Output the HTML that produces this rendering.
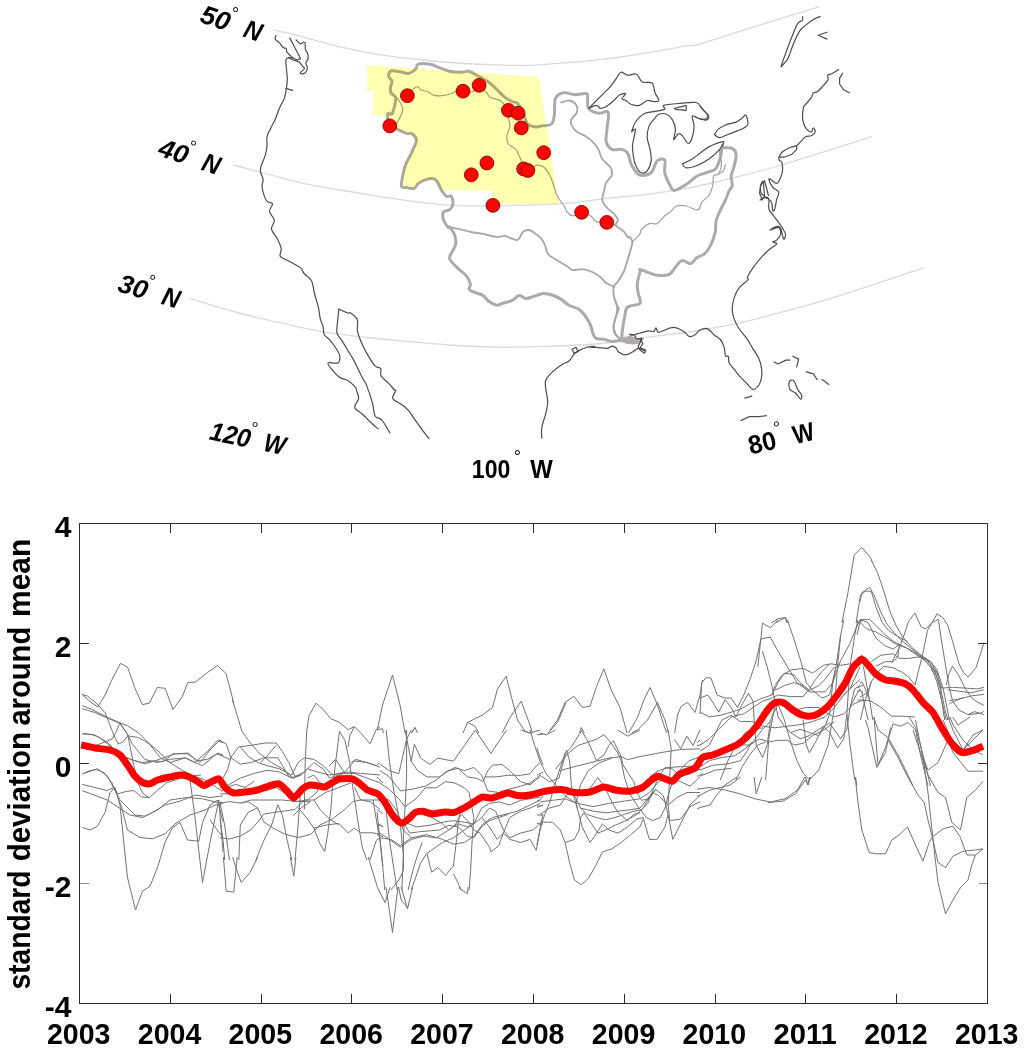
<!DOCTYPE html>
<html lang="en"><head><meta charset="utf-8"><title>Missouri basin standard deviation around mean</title>
<style>
html,body{margin:0;padding:0;background:#fff;}
body{width:1024px;height:1048px;overflow:hidden;font-family:"Liberation Sans",sans-serif;}
svg{display:block;}
.coast{fill:none;stroke:#4c4c4c;stroke-width:1.2;stroke-linejoin:round;stroke-linecap:round;}
.thick{fill:none;stroke:#ada9ac;stroke-width:3;stroke-linejoin:round;stroke-linecap:round;}
.medium{fill:none;stroke:#aaa7a9;stroke-width:1.9;stroke-linejoin:round;stroke-linecap:round;}
.thin{fill:none;stroke:#a3a0a2;stroke-width:1.2;stroke-linejoin:round;stroke-linecap:round;}
.lat{fill:none;stroke:#dadada;stroke-width:1.3;}
.dot{fill:#fb0505;stroke:#8a0000;stroke-width:0.9;}
.g{fill:none;stroke:#727272;stroke-width:1;stroke-linejoin:round;}
.red{fill:none;stroke:#ff0000;stroke-width:7;stroke-linejoin:round;stroke-linecap:butt;}
.ax{stroke:#2e2e2e;stroke-width:1.1;fill:none;shape-rendering:crispEdges;}
.tk{font-family:"Liberation Sans",sans-serif;font-weight:bold;font-size:30px;fill:#000;}
.ml{font-family:"Liberation Sans",sans-serif;font-weight:bold;font-size:26px;fill:#000;}
</style></head><body>
<svg width="1024" height="1048" viewBox="0 0 1024 1048">
<rect width="1024" height="1048" fill="#fff"/>
<g id="map"><g style="filter:blur(0.35px)">
<path class="lat" d="M272.7 29.8 C277.2 30.9 288.8 33.3 300 36.1 C311.2 38.9 326.8 43.7 340 46.8 C353.2 49.9 366.0 52.5 379 54.6 C392.0 56.7 405.1 58.1 418.1 59.5 C431.1 60.9 444.2 62.1 457.2 63 C470.2 63.9 484.2 64.4 496.3 64.8 C508.4 65.2 517.9 65.8 530 65.4 C542.1 65.0 556.1 63.6 569.1 62.5 C582.1 61.4 595.1 60.2 608.1 58.6 C621.1 57.0 634.2 54.8 647.2 52.7 C660.2 50.6 677.5 47.4 686.3 45.9 C695.1 44.4 688.0 47.3 700 43.9 C712.0 40.5 738.8 31.6 758.6 25.4 C778.5 19.2 809.0 9.9 819.1 6.8"/>
<path class="lat" d="M233.8 165 C244.8 167.9 282.3 178.4 300 182.6 C317.7 186.8 326.8 187.7 340 190 C353.2 192.3 366.0 194.3 379 196.3 C392.0 198.3 405.0 200.6 418 202.1 C431.0 203.6 443.8 205.0 457.2 205.6 C470.6 206.2 486.5 205.9 498.6 205.8 C510.7 205.7 518.2 205.4 530 205 C541.8 204.6 556.1 204.2 569.1 203.1 C582.1 202.0 595.1 199.7 608.1 198.2 C621.1 196.7 634.2 195.9 647.2 194.3 C660.2 192.7 674.5 190.5 686.3 188.4 C698.1 186.3 702.8 185.2 718.1 181.5 C733.4 177.8 752.5 173.5 778.1 166 C803.7 158.5 856.3 141.6 871.9 136.7"/>
<path class="lat" d="M189.8 298.4 C197.6 300.8 220.1 308.1 236.7 312.5 C253.2 316.9 273.9 321.4 289.1 324.8 C304.3 328.2 315.1 330.5 328.1 332.6 C341.1 334.7 354.2 336.0 367.2 337.5 C380.2 339.0 392.5 340.1 406.3 341.4 C420.1 342.6 434.6 344.0 450 345 C465.4 346.0 482.3 347.0 498.6 347.2 C514.9 347.4 531.5 346.9 547.7 346.4 C563.9 345.9 580.6 345.4 596 344 C611.4 342.6 623.7 340.2 639.8 338.1 C655.9 336.0 676.9 333.8 692.5 331.5 C708.1 329.2 719.2 327.2 733.5 324.2 C747.8 321.1 760.9 317.8 778.1 313.2 C795.3 308.6 812.3 304.2 836.7 296.6 C861.1 289.0 909.9 272.4 924.5 267.5"/>
<path class="thick" d="M389.8 126.2 C389.4 124.9 387.9 120.5 387.6 118.4 C387.3 116.3 387.4 114.2 388.1 113.5 C388.8 112.8 391.0 114.8 392 114 C393.0 113.2 393.3 110.6 393.9 108.6 C394.5 106.6 395.1 103.8 395.4 101.8 C395.6 99.8 396.1 98.4 395.4 96.9 C394.7 95.4 391.8 94.6 391 93 C390.2 91.4 390.3 89.0 390.5 87.1 C390.7 85.1 392.3 83.1 392 81.3 C391.7 79.5 388.8 78.1 388.6 76.4 C388.4 74.7 389.0 71.7 391 71 C393.0 70.3 397.9 71.6 400.8 72 C403.7 72.4 406.2 73.8 408.6 73.4 C411.0 73.0 413.8 71.0 415.4 69.5 C417.0 68.0 415.9 65.1 418.4 64.2 C420.8 63.3 426.9 63.7 430.1 64.2 C433.4 64.7 434.7 65.9 437.9 67.1 C441.1 68.3 445.5 70.3 449.4 71.2 C453.3 72.1 457.9 72.2 461.1 72.2 C464.4 72.2 466.3 70.7 468.9 71.2 C471.5 71.7 473.4 73.4 476.7 75.2 C479.9 77.0 485.1 79.7 488.4 82 C491.6 84.3 493.6 86.4 496.2 88.8 C498.8 91.2 501.5 94.5 504.1 96.6 C506.7 98.7 509.6 100.3 511.9 101.5 C514.2 102.7 515.8 101.4 517.7 103.5 C519.7 105.6 522.0 110.8 523.6 114.2 C525.2 117.6 525.5 121.9 527.5 124 C529.5 126.1 532.9 126.6 535.3 126.9 C537.7 127.2 539.0 126.4 541.7 125.9 C544.4 125.4 549.4 126.0 551.5 124 C553.6 122.0 553.8 118.4 554.4 114.2 C555.0 110.0 553.9 102.2 555.4 98.6 C556.9 95.0 560.0 93.3 563.2 92.7 C566.5 92.1 571.0 94.5 574.9 94.7 C578.8 94.9 584.5 92.7 586.6 93.7 C588.7 94.7 587.3 98.0 587.6 100.5 C587.9 103.0 586.8 106.3 588.6 108.4 C590.4 110.5 595.1 112.6 598.4 113.2 C601.6 113.8 606.6 109.8 608.1 112.3 C609.6 114.8 607.4 123.0 607.1 127.9 C606.8 132.8 605.4 138.0 606.2 141.6 C607.0 145.2 609.4 148.1 612 149.4 C614.6 150.7 619.2 148.8 621.8 149.4 C624.4 150.1 626.1 150.7 627.7 153.3 C629.3 155.9 629.7 161.4 631.6 165 C633.5 168.6 636.1 173.5 639.4 174.8 C642.6 176.1 648.2 175.1 651.1 172.8 C654.0 170.5 654.7 163.2 657 161.1 C659.3 159.0 663.5 158.1 664.8 160.1 C666.1 162.1 663.8 168.4 664.8 172.8 C665.8 177.2 669.0 183.6 670.6 186.5 C672.2 189.4 671.9 190.7 674.5 190.4 C677.1 190.1 682.6 186.8 686.2 184.5 C689.8 182.2 692.7 178.6 696 176.7 C699.3 174.8 702.5 174.1 705.8 172.8 C709.0 171.5 713.1 171.5 715.5 168.9 C717.9 166.3 719.2 161.1 720.4 157.2 C721.5 153.3 721.9 147.1 722.4 145.5 C722.9 143.9 721.8 147.0 723.4 147.5 C725.0 148.0 730.1 147.3 732.2 148.4 C734.3 149.5 735.8 151.4 736.1 154.3 C736.4 157.2 735.0 162.4 734.2 166 C733.4 169.6 731.5 172.6 731.2 175.8 C730.9 179.1 732.6 182.9 732.2 185.5 C731.8 188.1 730.0 188.9 728.9 191.2 C727.8 193.5 727.4 195.8 725.9 199.1 C724.4 202.4 721.7 207.2 720.1 210.8 C718.5 214.4 717.0 216.9 716.2 220.5 C715.4 224.1 716.2 228.1 715.2 232.3 C714.2 236.5 712.1 242.3 710.3 245.9 C708.5 249.5 706.8 251.8 704.5 253.8 C702.2 255.8 698.9 256.1 696.6 257.7 C694.3 259.3 693.2 263.0 690.8 263.5 C688.4 264.0 684.6 260.0 682 260.6 C679.4 261.2 677.3 265.1 675.2 267.4 C673.1 269.7 672.2 273.0 669.3 274.3 C666.4 275.6 661.2 275.5 657.6 275.2 C654.0 274.9 650.7 273.3 647.8 272.3 C644.9 271.3 641.3 269.4 640 269.4 C638.7 269.3 640.5 269.6 640 272 C639.5 274.4 637.6 280.2 637.3 283.8 C637.0 287.4 637.8 290.2 638.2 293.5 C638.7 296.8 641.8 301.0 640 303.3 C638.2 305.6 630.1 304.9 627.5 307.2 C624.9 309.5 625.4 313.4 624.6 317 C623.8 320.6 623.1 325.1 622.6 328.7 C622.1 332.3 621.8 336.8 621.6 338.4"/>
<path class="thick" d="M389.8 126.2 C391.6 127.0 397.9 129.8 400.8 131 C403.7 132.2 405.1 133.1 407 133.6 C408.9 134.1 410.9 132.8 412.5 134 C414.1 135.2 416.2 138.5 416.4 140.8 C416.6 143.1 414.4 145.9 413.5 148 C412.6 150.1 412.7 150.5 411.3 153.3 C409.9 156.1 406.9 161.1 405.4 165 C403.9 168.9 403.1 173.1 402.5 176.7 C401.9 180.3 400.9 184.7 401.5 186.5 C402.1 188.3 404.3 187.2 406.4 187.5 C408.5 187.8 412.2 189.1 414.2 188.4 C416.1 187.8 416.2 185.1 418.1 183.6 C420.1 182.1 423.3 180.4 425.9 179.6 C428.5 178.8 431.8 178.2 433.8 178.7 C435.8 179.2 436.4 180.6 437.7 182.6 C439.0 184.6 440.2 188.1 441.6 190.4 C443.1 192.7 444.8 195.2 446.4 196.2 C448.0 197.2 450.2 194.9 451.3 196.2 C452.4 197.5 453.2 201.8 452.9 204.1 C452.6 206.4 451.0 208.6 449.4 209.9 C447.8 211.2 444.5 210.3 443.5 211.9 C442.5 213.5 442.7 217.1 443.5 219.7 C444.3 222.3 447.3 226.3 448.4 227.5 C449.4 228.7 448.8 225.9 449.8 227.1 C450.8 228.3 453.6 232.0 454.6 234.9 C455.6 237.8 456.1 241.8 455.6 244.7 C455.1 247.6 452.7 250.1 451.7 252.5 C450.7 254.9 448.8 256.7 449.8 259.3 C450.8 261.9 454.8 265.3 457.6 268.1 C460.4 270.9 464.3 273.3 466.4 275.9 C468.5 278.5 469.8 281.5 470.3 283.8 C470.8 286.1 468.5 288.2 469.3 289.6 C470.1 291.1 472.9 291.5 475.2 292.5 C477.5 293.5 480.7 294.0 483 295.5 C485.3 297.0 486.5 299.7 488.8 301.3 C491.1 302.9 494.3 304.9 496.6 305.2 C498.9 305.5 499.9 304.1 502.5 303.3 C505.1 302.5 509.5 301.7 512.3 300.4 C515.1 299.1 516.8 295.8 519.1 295.5 C521.4 295.2 523.5 298.2 525.9 298.4 C528.3 298.5 530.9 297.2 533.8 296.4 C536.7 295.6 540.2 293.6 543.5 293.5 C546.8 293.4 550.4 294.5 553.3 295.5 C556.2 296.5 558.5 297.8 561.1 299.4 C563.7 301.0 566.0 303.6 568.9 305.2 C571.8 306.8 576.1 307.5 578.7 309.1 C581.3 310.7 582.5 312.4 584.5 315 C586.5 317.6 588.9 321.6 590.4 324.8 C591.9 328.1 592.3 332.2 593.3 334.5 C594.3 336.8 594.4 337.6 596.2 338.4 C598.0 339.2 601.5 338.9 604.1 339.4 C606.7 339.9 609.3 341.2 611.9 341.4 C614.5 341.6 617.1 340.4 619.7 340.4 C622.3 340.4 624.6 341.4 627.5 341.4 C630.4 341.4 635.5 340.6 637.3 340.4 C639.1 340.2 637.5 340.6 638.3 340.3 C639.1 340.0 641.4 339.1 642 338.8"/>
<path class="medium" d="M449.8 227.1 C451.4 227.4 455.9 228.3 459.5 229.1 C463.1 229.9 467.3 231.2 471.2 232 C475.1 232.8 478.8 233.1 483 233.9 C487.2 234.7 493.0 236.6 496.6 236.9 C500.2 237.2 501.9 235.6 504.5 235.9 C507.1 236.2 510.0 238.2 512.3 238.8 C514.6 239.5 516.3 240.9 518.1 239.8 C519.9 238.7 521.2 233.6 523 232 C524.8 230.4 526.8 229.7 528.9 230 C531.0 230.3 533.6 232.4 535.7 233.9 C537.8 235.4 540.0 236.7 541.6 238.8 C543.2 240.9 544.4 244.0 545.5 246.6 C546.6 249.2 546.4 252.2 548.4 254.5 C550.4 256.8 554.1 258.4 557.2 260.3 C560.3 262.2 564.4 264.6 567 266.2 C569.6 267.8 570.2 269.6 572.8 270.1 C575.4 270.6 579.4 268.8 582.6 269.1 C585.9 269.4 589.4 270.7 592.3 272 C595.2 273.3 597.9 275.1 600.2 276.9 C602.5 278.7 603.7 281.2 606 282.8 C608.3 284.4 612.5 286.1 613.8 286.7"/>
<path class="medium" d="M561.2 102.5 C562.5 102.2 566.7 100.2 569.1 100.5 C571.5 100.8 574.6 102.5 575.9 104.5 C577.2 106.5 577.7 109.7 576.9 112.3 C576.1 114.9 571.8 117.8 571 120.1 C570.2 122.4 571.0 124.0 572 125.9 C573.0 127.9 574.8 130.2 576.9 131.8 C579.0 133.4 582.1 134.1 584.7 135.7 C587.3 137.3 590.2 139.3 592.5 141.6 C594.8 143.9 596.8 146.5 598.4 149.4 C600.0 152.3 600.3 156.2 602.3 159.1 C604.2 162.0 608.5 164.4 610.1 167 C611.7 169.6 612.6 172.2 612 174.8 C611.4 177.4 607.5 180.0 606.2 182.6 C604.9 185.2 604.9 187.5 604.2 190.4 C603.6 193.3 601.8 197.3 602.3 200.2 C602.8 203.1 605.1 205.7 607.1 208 C609.1 210.3 612.2 211.9 614 213.8 C615.8 215.8 617.6 217.8 617.9 219.7 C618.2 221.6 614.9 223.6 615.9 225.5 C616.9 227.4 621.8 229.4 623.8 231.4 C625.8 233.4 626.8 236.4 627.7 237.3 C628.7 238.2 628.7 236.2 629.5 236.9 C630.3 237.7 632.2 239.5 632.4 241.8 C632.5 244.1 631.2 247.4 630.4 250.5 C629.6 253.6 628.6 256.7 627.5 260.3 C626.4 263.9 625.2 268.4 623.6 272 C622.0 275.6 619.3 279.4 617.7 281.8 C616.1 284.2 614.4 284.4 613.8 286.7 C613.1 289.0 613.3 292.4 613.8 295.5 C614.3 298.6 616.0 302.9 616.8 305.2 C617.6 307.5 618.9 307.1 618.7 309.1 C618.5 311.1 616.6 314.1 615.8 317 C615.0 319.9 613.8 323.8 613.8 326.7 C613.8 329.6 614.8 332.4 615.8 334.5 C616.8 336.6 619.1 338.6 619.7 339.4"/>
<path class="medium" d="M614.9 300 C615.3 301.0 616.9 303.5 617.1 305.9 C617.4 308.3 617.0 311.2 616.4 314.6 C615.8 318.0 613.6 323.2 613.4 326.4 C613.1 329.6 613.9 331.8 614.9 333.7 C615.9 335.6 618.6 337.4 619.3 338.1"/>
<path class="thin" d="M396.9 123.2 C397.7 121.6 400.8 115.9 401.8 113.5 C402.8 111.1 403.0 110.5 402.7 108.6 C402.4 106.6 401.1 103.9 399.8 101.8 C398.5 99.7 395.7 96.9 394.9 95.9"/>
<path class="thin" d="M407.6 95.7 C408.6 94.6 411.9 90.6 413.5 89.1 C415.1 87.6 416.1 86.4 417.4 86.6 C418.7 86.8 419.5 89.1 421.3 90 C423.1 90.9 426.0 91.1 428.1 92 C430.2 92.9 431.8 94.8 434 95.4 C436.2 96.0 438.7 96.0 441.6 95.7 C444.5 95.4 448.7 94.5 451.3 93.7 C453.9 92.9 455.2 91.2 457.2 90.8 C459.1 90.4 460.4 91.0 463 91.2 C465.6 91.4 470.1 92.8 472.8 91.8 C475.5 90.8 476.8 85.1 479.1 85.3 C481.4 85.5 484.6 90.7 486.5 92.7 C488.4 94.8 488.1 96.3 490.4 97.6 C492.7 98.9 497.6 99.0 500.2 100.5 C502.8 102.0 504.6 104.8 506 106.4 C507.4 108.0 508.1 108.5 508.4 110.3 C508.7 112.1 507.8 114.5 508 117.1 C508.2 119.7 510.1 122.8 509.9 125.9 C509.7 129.0 507.3 132.8 507 135.7 C506.7 138.6 506.5 141.2 508 143.5 C509.5 145.8 514.0 147.5 515.8 149.4 C517.6 151.3 517.7 153.2 518.7 155.2 C519.7 157.1 520.8 158.8 521.6 161.1 C522.4 163.4 522.6 167.3 523.6 168.9 C524.6 170.5 526.0 171.0 527.9 170.5 C529.8 170.0 533.6 166.9 535.3 166 C536.9 165.1 536.4 164.8 537.8 165 C539.2 165.2 541.8 165.4 543.7 167 C545.7 168.6 547.9 171.9 549.5 174.8 C551.1 177.7 552.1 180.9 553.4 184.5 C554.7 188.1 555.5 192.6 557.3 196.2 C559.1 199.8 562.6 203.4 564.2 206 C565.8 208.6 565.6 210.3 567.1 211.9 C568.6 213.5 570.6 215.7 573 215.8 C575.4 215.9 578.7 212.3 581.6 212.3 C584.5 212.3 588.0 214.2 590.5 215.8 C593.0 217.4 593.6 220.5 596.4 221.6 C599.1 222.7 603.8 221.9 607 222.6 C610.2 223.2 614.4 225.0 615.9 225.5"/>
<path class="thin" d="M632.4 241.8 C632.9 241.3 634.0 240.1 635.3 238.8 C636.6 237.5 639.0 235.5 640 233.9 C641.0 232.3 639.8 231.2 641.3 229.5 C642.8 227.8 646.5 224.6 649.1 223.6 C651.7 222.6 654.4 224.9 657 223.6 C659.6 222.3 662.5 217.8 664.8 215.8 C667.1 213.9 668.6 213.5 670.6 211.9 C672.6 210.3 673.9 207.0 676.5 206 C679.1 205.0 682.6 205.3 686.2 206 C689.8 206.7 695.4 210.6 698 209.9 C700.6 209.2 699.9 204.7 701.9 202.1 C703.9 199.5 707.9 197.1 709.7 194.3 C711.5 191.5 712.0 188.6 712.7 185.5 C713.4 182.4 712.7 177.8 713.7 175.8 C714.7 173.9 717.3 175.8 718.6 173.8 C719.9 171.9 721.4 168.0 721.5 164.1 C721.6 160.2 719.8 152.7 719.5 150.4"/>
<path class="thin" d="M718.6 173.8 C719.4 173.3 722.3 172.4 723.4 170.9 C724.5 169.4 725.0 166.0 725.3 165"/>
<path d="M622 337.5 L631 336.5 L637 339 L640 343 L634 344 L627 343.5 L621 341Z" fill="#b0a9ac" stroke="#b0a9ac" stroke-width="1" stroke-linejoin="round"/>
<path class="coast" d="M276.1 35.6 C275.9 36.2 274.5 37.8 275.1 39 C275.7 40.2 278.2 41.5 279.5 42.9 C280.8 44.3 281.8 46.3 282.9 47.3 C284.0 48.3 285.7 48.0 286.4 48.8 C287.1 49.6 285.9 50.7 286.9 52.2 C287.9 53.7 292.0 56.7 292.2 57.6 C292.4 58.5 289.4 57.2 288.3 57.6 C287.2 58.0 286.2 58.1 285.9 60 C285.6 61.9 286.2 65.7 286.4 68.8 C286.6 71.9 287.3 75.3 287.3 78.6 C287.3 81.9 286.9 85.2 286.4 88.4 C285.9 91.7 285.5 94.8 284.4 98.1 C283.2 101.3 281.0 104.5 279.5 107.9 C278.0 111.3 277.0 115.3 275.6 118.6 C274.2 121.9 272.3 124.9 270.9 127.9 C269.5 130.9 267.6 133.6 267 136.7 C266.4 139.8 267.3 143.2 267 146.5 C266.7 149.8 266.0 152.9 265 156.2 C264.0 159.4 261.9 163.4 261.1 166 C260.4 168.6 260.2 169.6 260.5 171.9 C260.8 174.2 262.8 177.1 263.1 179.7 C263.4 182.3 261.5 184.0 262.1 187.5 C262.7 191.0 264.9 198.0 266.6 200.7 C268.3 203.4 272.0 201.9 272.5 203.7 C273.0 205.5 269.2 208.7 269.5 211.5 C269.8 214.3 274.1 217.4 274.4 220.3 C274.7 223.2 271.0 226.0 271.5 229.1 C272.0 232.2 275.7 235.6 277.3 238.8 C278.9 242.1 280.7 245.7 281.2 248.6 C281.7 251.5 279.0 254.3 280.3 256.4 C281.6 258.5 285.7 259.4 289.1 261.3 C292.5 263.2 298.4 266.2 300.8 268.1 C303.2 270.1 301.9 270.9 303.7 273 C305.5 275.1 309.7 277.4 311.5 280.8 C313.3 284.2 313.4 289.1 314.5 293.5 C315.6 297.9 317.4 303.0 318.4 307.2 C319.4 311.4 319.5 315.6 320.3 318.9 C321.1 322.1 322.6 324.1 323.2 326.7 C323.8 329.3 323.0 332.2 324.2 334.5 C325.4 336.8 328.2 338.1 330.1 340.4 C332.1 342.7 334.3 345.6 335.9 348.2 C337.5 350.8 339.5 353.6 339.8 356 C340.1 358.4 339.8 361.8 337.9 362.9 C335.9 364.0 329.1 361.8 328.1 362.9 C327.1 364.0 330.1 367.3 332 369.7 C333.9 372.1 337.2 375.7 339.8 377.5 C342.4 379.3 345.1 378.8 347.7 380.4 C350.3 382.0 354.0 385.6 355.5 387.3 C357.0 389.0 356.1 388.9 356.6 390.8 C357.1 392.7 358.9 395.8 358.6 398.6 C358.3 401.4 354.1 404.8 354.7 407.4 C355.3 410.0 359.9 411.8 362.5 414.2 C365.1 416.6 367.7 419.6 370.3 422 C372.9 424.4 376.8 427.8 378.1 428.9"/>
<path class="coast" d="M288.3 57.6 C289.1 58.0 291.4 59.3 293.2 60 C295.0 60.7 297.5 60.9 299.1 62 C300.7 63.1 302.1 65.8 303 66.9 C303.9 68.0 304.9 67.8 304.4 68.8 C303.9 69.8 299.9 72.5 300 73.2 C300.1 73.9 303.7 74.1 304.9 73.2 C306.1 72.3 307.2 69.6 307.4 67.9 C307.6 66.2 305.8 64.5 305.9 63 C306.0 61.5 307.6 60.6 307.9 59.1 C308.2 57.6 308.3 55.8 307.9 54.2 C307.5 52.6 305.9 51.2 305.4 49.3 C304.9 47.4 305.5 44.0 305.1 42.9 C304.7 41.8 303.8 42.3 303 42.5 C302.2 42.7 301.6 44.3 300.5 43.9 C299.4 43.5 296.8 40.6 296.1 40"/>
<path class="coast" d="M289.8 38.1 L295.2 48.3 L300.5 58.6 L297.1 60 L292.2 57.6"/>
<path class="coast" d="M285.9 88.4 L292.7 90.3"/>
<path class="coast" d="M338.9 309.1 C338.7 310.7 338.2 315.0 337.9 318.9 C337.6 322.8 336.2 329.0 336.9 332.6 C337.5 336.2 340.0 337.5 341.8 340.4 C343.6 343.3 345.8 346.9 347.7 350.2 C349.6 353.4 351.9 357.0 353.5 359.9 C355.1 362.8 355.8 364.4 357.4 367.7 C359.0 371.0 361.8 376.6 363.3 379.5 C364.8 382.4 364.9 381.1 366.4 384.9 C367.9 388.7 370.8 397.3 372.3 402.5 C373.8 407.7 373.6 413.3 375.2 416.2 C376.8 419.1 379.6 417.3 382 420.1 C384.4 422.9 388.5 430.7 389.8 432.8"/>
<path class="coast" d="M338.9 309.1 C340.4 309.8 345.8 312.4 347.7 313 C349.6 313.6 349.0 311.9 350.6 313 C352.2 314.1 356.3 317.0 357.4 319.9 C358.5 322.8 356.8 326.9 357.4 330.6 C358.0 334.3 359.7 338.4 361.3 342.3 C362.9 346.2 364.9 350.2 367.2 354.1 C369.5 358.0 372.7 363.4 375 365.8 C377.3 368.2 379.9 367.1 380.9 368.7 C381.9 370.3 379.6 373.1 380.9 375.5 C382.2 377.9 386.4 381.0 388.7 383.4 C391.0 385.8 393.3 388.8 394.5 390 C395.7 391.2 396.0 389.4 395.7 390.8 C395.4 392.2 391.8 396.3 392.8 398.6 C393.8 400.9 399.0 402.6 401.6 404.5 C404.2 406.4 406.1 407.7 408.4 410.3 C410.7 412.9 412.8 416.7 415.2 420.1 C417.6 423.5 420.7 427.7 423 430.8 C425.3 433.9 427.9 437.3 428.9 438.6"/>
<path class="coast" d="M541.8 438.2 C541.8 436.4 541.1 431.5 541.8 427.4 C542.4 423.3 544.7 418.0 545.7 413.8 C546.7 409.6 547.7 406.2 547.7 402 C547.7 397.8 546.0 392.0 545.7 388.4 C545.4 384.8 544.7 383.1 545.7 380.5 C546.7 377.9 549.0 375.3 551.6 372.7 C554.2 370.1 558.4 366.8 561.3 364.9 C564.2 362.9 566.8 362.9 569.1 361 C571.4 359.1 572.1 355.5 575 353.2 C577.9 350.9 583.5 348.4 586.7 347.3 C590.0 346.2 594.0 346.5 594.5 346.4 C595.0 346.3 589.3 346.7 590 346.9 C590.7 347.1 595.9 347.4 598.8 347.6 C601.7 347.8 605.4 348.6 607.6 348.3 C609.8 348.1 610.5 346.1 612 346.1 C613.5 346.1 615.3 347.3 616.4 348.3 C617.5 349.3 617.1 350.9 618.6 352 C620.1 353.1 622.9 354.9 625.2 354.9 C627.5 354.9 630.3 353.1 632.5 352 C634.7 350.9 636.2 348.4 638.3 348.3 C640.4 348.2 644.0 350.6 644.9 351.3 C645.8 352.0 644.6 353.4 643.5 352.7 C642.4 352.0 638.5 349.2 638.3 346.9 C638.0 344.6 642.2 340.1 642 338.8 C641.8 337.5 638.2 339.4 636.9 338.8 C635.5 338.2 635.1 335.9 633.9 335.2 C632.7 334.5 629.7 334.4 629.5 334.4 C629.3 334.4 630.8 335.4 632.5 335.2 C634.2 335.0 637.1 333.7 639.8 333 C642.5 332.3 646.3 331.1 648.6 330.8 C650.9 330.6 652.5 332.0 653.7 331.5 C654.9 331.0 655.2 327.7 655.9 327.8 C656.6 327.9 656.9 331.7 658.1 332.2 C659.3 332.7 661.1 331.5 663.2 330.8 C665.3 330.1 668.4 328.3 670.6 327.8 C672.8 327.3 674.2 327.2 676.4 327.8 C678.6 328.4 681.5 330.0 683.7 331.5 C685.9 333.0 687.6 336.1 689.6 336.6 C691.6 337.1 693.8 335.5 695.5 334.4 C697.2 333.3 697.9 331.0 699.9 330 C701.9 329.0 704.8 327.7 707.2 328.6 C709.6 329.5 712.3 333.4 714.5 335.2 C716.7 337.0 718.8 337.6 720.4 339.5 C722.0 341.4 723.1 344.2 724 346.9 C724.9 349.6 724.8 354.1 725.5 355.7 C726.2 357.3 727.8 355.2 728.4 356.4 C729.0 357.6 728.1 360.7 729.2 363 C730.3 365.3 733.4 368.2 735 370.3 C736.6 372.4 737.1 373.5 739.1 375.7 C741.1 377.9 744.6 381.2 746.9 383.5 C749.2 385.8 750.8 389.1 752.7 389.4 C754.7 389.7 757.1 387.4 758.6 385.5 C760.1 383.6 761.0 380.6 761.5 377.7 C762.0 374.8 762.0 371.2 761.5 367.9 C761.0 364.6 760.1 361.4 758.6 358.1 C757.1 354.9 754.7 351.6 752.7 348.4 C750.8 345.1 749.2 341.9 746.9 338.6 C744.6 335.3 741.2 332.1 739.1 328.8 C737.0 325.6 735.4 322.4 734.2 319.1 C733.1 315.9 732.2 312.9 732.2 309.3 C732.2 305.7 733.1 301.2 734.2 297.6 C735.4 294.0 736.8 290.7 739.1 287.8 C741.4 284.9 746.5 281.8 747.9 280 C749.3 278.2 746.5 279.3 747.4 277.2 C748.3 275.1 751.0 270.6 753.3 267.4 C755.6 264.1 758.5 260.6 761.1 257.7 C763.7 254.8 766.3 252.1 768.9 249.8 C771.5 247.5 776.1 245.3 776.7 244 C777.4 242.7 772.8 242.7 772.8 242 C772.8 241.3 775.4 241.4 776.7 240.1 C778.0 238.8 780.3 236.3 780.6 234.2 C780.9 232.1 780.5 228.1 778.7 227.4 C776.9 226.8 770.2 230.5 769.9 230.3 C769.6 230.1 774.9 226.7 776.7 226.4 C778.5 226.1 779.5 226.3 780.6 228.4 C781.8 230.5 782.8 238.1 783.6 239.1 C784.4 240.1 785.7 236.0 785.5 234.2 C785.3 232.4 783.7 230.3 782.6 228.4 C781.5 226.5 780.3 224.8 778.7 222.5 C777.1 220.2 774.4 217.0 772.8 214.7 C771.2 212.4 769.5 211.4 768.9 208.8 C768.2 206.2 769.5 201.1 768.9 199.1 C768.2 197.1 766.5 196.9 765 197.1 C763.5 197.2 760.1 200.0 760.1 200 C760.1 200.0 764.8 198.2 765 197.1 C765.2 196.0 761.8 195.1 761.1 193.2 C760.4 191.2 760.4 187.3 760.7 185.4 C761.0 183.5 762.5 180.8 763 181.5 C763.5 182.2 763.7 186.7 764 189.3 C764.3 191.9 764.2 195.5 765 197.1 C765.8 198.7 767.8 198.1 768.9 199.1 C770.0 200.1 771.1 201.1 771.8 203 C772.4 204.9 772.3 209.8 772.8 210.8 C773.3 211.8 774.1 210.8 774.8 208.8 C775.4 206.9 776.1 201.9 776.7 199.1 C777.4 196.3 779.4 194.2 778.7 192.2 C778.1 190.2 774.4 189.4 772.8 187.3 C771.2 185.2 769.2 180.8 768.9 179.5 C768.6 178.2 769.6 178.8 770.9 179.5 C772.2 180.2 775.1 183.7 776.7 183.4 C778.3 183.1 779.6 179.9 780.6 177.6 C781.6 175.3 782.4 172.4 782.6 169.8 C782.8 167.2 782.2 163.6 781.6 162 C781.0 160.4 779.5 161.0 779.1 160.2 C778.7 159.4 778.6 158.5 779.1 157.2 C779.6 155.9 780.2 153.9 782 152.3 C783.8 150.7 787.3 148.6 789.8 147.5 C792.2 146.4 794.7 146.7 796.7 145.5 C798.7 144.3 800.1 142.1 801.6 140.6 C803.1 139.1 803.9 137.5 805.5 136.7 C807.1 135.9 809.7 136.5 811.3 135.7 C812.9 134.9 814.9 133.1 815.2 131.8 C815.5 130.5 813.9 127.9 813.3 127.9 C812.6 127.9 812.4 131.6 811.3 131.8 C810.1 132.0 807.7 130.4 806.4 128.9 C805.1 127.4 804.1 125.0 803.5 123 C802.9 121.0 802.5 119.8 802.5 117.2 C802.5 114.6 802.9 109.7 803.5 107.4 C804.1 105.1 805.1 105.1 806.4 103.5 C807.7 101.9 810.1 99.5 811.3 97.7 C812.4 95.9 812.3 93.8 813.3 92.8 C814.3 91.8 815.6 92.9 817.2 91.8 C818.8 90.7 821.2 87.9 823 85.9 C824.8 84.0 827.1 81.9 827.9 80.1 C828.7 78.3 827.1 76.3 827.9 75.2 C828.7 74.1 831.0 74.2 832.8 73.2 C834.6 72.2 837.7 70.0 838.7 69.3"/>
<path class="coast" d="M572.1 349.3 L576 347.3 L577.9 351.2 L574 353.2 L572.1 349.3"/>
<path class="coast" d="M779.1 157.2 L784 157.2 L791.8 154.3 L796.7 149.4 L796.7 145.5"/>
<path class="coast" d="M764.5 180.7 L760.5 185.5 L759.6 193.4 L762.5 200"/>
<path class="coast" d="M764.5 180.7 L766.4 187.5 L768.4 195.3"/>
<path class="coast" d="M842.6 73.2 L839.6 78.1 L839.6 84 L843.6 89.8 L849.4 92.8"/>
<path class="coast" d="M827 32.2 L818.2 35.2 L827 39.1"/>
<path class="coast" d="M802.5 16.6 C802.5 17.2 803.3 19.4 802.5 20.5 C801.7 21.6 799.5 20.6 797.7 23.4 C795.9 26.2 793.8 32.2 791.8 37.1 C789.8 42.0 787.7 47.8 785.9 52.7 C784.1 57.6 781.4 64.6 781.1 66.4 C780.8 68.2 782.9 64.8 784 63.5 C785.1 62.2 786.3 62.0 787.9 58.6 C789.5 55.2 791.8 47.6 793.8 43 C795.8 38.4 797.6 34.1 799.6 31.2 C801.6 28.3 803.2 27.3 805.5 25.4 C807.8 23.4 810.9 21.0 813.3 19.5 C815.7 18.0 819.0 17.1 820.1 16.6"/>
<path class="coast" d="M744.9 398.2 L751.8 396.2"/>
<path class="coast" d="M741 420.6 L748.8 416.7 L758.6 416.7 L766.4 415.7"/>
<path class="coast" d="M774.2 362 L778.1 364 L785.9 360.1 L789.8 360.1"/>
<path class="coast" d="M792.8 356.2 L798.6 359.1 L796.7 366.9"/>
<path class="coast" d="M806.4 371.8 L813.3 373.8 L817.2 379.6"/>
<path class="coast" d="M822.1 379.6 L828.9 384.5"/>
<path class="coast" d="M789.8 380.6 C790.5 380.6 792.5 379.1 793.8 380.6 C795.1 382.1 796.4 387.0 797.7 389.4 C799.0 391.8 801.1 393.6 801.6 395.2 C802.1 396.8 801.6 399.4 800.6 399.1 C799.6 398.8 797.5 394.9 795.7 393.3 C793.9 391.7 790.9 391.0 789.8 389.4 C788.7 387.8 788.9 385.0 788.9 383.5 C788.9 382.0 789.6 381.1 789.8 380.6"/>
<path class="coast" d="M640 338.7 L642.9 343.6 L640 347.5 L645.9 350.4"/>
<path class="coast" d="M588.6 108.4 C589.6 107.4 592.2 104.8 594.5 102.5 C596.8 100.2 599.7 97.3 602.3 94.7 C604.9 92.1 607.8 89.5 610.1 86.9 C612.4 84.3 614.1 81.5 615.9 79.1 C617.7 76.6 618.8 72.8 620.8 72.2 C622.8 71.6 625.1 74.9 627.7 75.2 C630.3 75.5 634.0 73.1 636.4 74.2 C638.8 75.3 639.7 80.5 642.3 82 C644.9 83.5 650.0 81.2 652.1 83 C654.2 84.8 653.9 89.8 655 92.7 C656.1 95.6 659.2 99.0 658.9 100.5 C658.6 102.0 655.0 101.5 653 101.5 C651.0 101.5 649.5 99.8 647.2 100.5 C644.9 101.2 642.0 104.7 639.4 105.4 C636.8 106.1 633.9 105.3 631.6 104.5 C629.3 103.7 627.3 101.5 625.7 100.5 C624.1 99.5 621.8 99.7 621.8 98.6 C621.8 97.5 626.0 94.3 625.7 93.7 C625.4 93.1 621.8 93.6 619.8 94.7 C617.8 95.8 616.3 98.5 614 100.5 C611.7 102.5 608.5 105.1 606.2 106.4 C603.9 107.7 601.9 108.6 600.3 108.4 C598.7 108.2 598.3 105.4 596.4 105.4 C594.5 105.4 589.9 107.9 588.6 108.4"/>
<path class="coast" d="M631.6 131.8 C632.2 130.2 633.5 124.9 635.5 122 C637.5 119.1 640.0 116.0 643.3 114.2 C646.5 112.4 651.4 112.1 655 111.3 C658.6 110.5 663.3 110.3 664.8 109.3 C666.3 108.3 661.5 106.4 663.8 105.4 C666.1 104.4 673.0 104.0 678.4 103.5 C683.8 103.0 692.1 101.7 696 102.5 C699.9 103.3 699.8 106.1 701.9 108.4 C704.0 110.7 708.1 114.2 708.7 116.2 C709.4 118.2 707.6 119.8 705.8 120.1 C704.0 120.4 700.3 118.8 698 118.1 C695.7 117.4 692.8 114.9 692.1 116.2 C691.5 117.5 694.1 122.3 694.1 125.9 C694.1 129.5 693.1 134.8 692.1 137.7 C691.1 140.6 689.8 143.8 688.2 143.5 C686.6 143.2 683.9 137.3 682.3 135.7 C680.7 134.1 679.8 133.2 678.4 133.8 C677.0 134.5 674.1 140.3 673.6 139.6 C673.1 138.9 675.7 133.1 675.5 129.8 C675.3 126.6 674.1 122.7 672.6 120.1 C671.1 117.5 669.0 115.2 666.7 114.2 C664.4 113.2 660.9 113.6 658.9 114.2 C656.9 114.8 656.6 116.1 655 118.1 C653.4 120.0 650.4 122.6 649.1 125.9 C647.8 129.2 647.0 133.8 647.2 137.7 C647.4 141.6 649.5 145.5 650.1 149.4 C650.8 153.3 651.6 157.5 651.1 161.1 C650.6 164.7 648.8 168.9 647.2 170.9 C645.6 172.9 643.1 173.5 641.3 172.8 C639.5 172.2 637.7 169.6 636.4 167 C635.1 164.4 634.1 160.8 633.5 157.2 C632.9 153.6 632.2 150.1 632.5 145.5 C632.8 140.9 635.6 132.1 635.5 129.8 C635.4 127.5 632.2 131.5 631.6 131.8"/>
<path class="coast" d="M674.5 108.4 L686.2 105.4 L686.2 110.3 L675.5 109.3 L674.5 108.4"/>
<path class="coast" d="M682.3 164 C683.9 163.2 689.2 160.9 692.1 159.1 C695.0 157.3 697.0 155.4 699.9 153.3 C702.8 151.2 705.8 148.4 709.7 146.4 C713.6 144.4 721.6 141.3 723.4 141.6 C725.2 141.9 722.0 146.1 720.4 148.4 C718.8 150.7 716.0 153.1 713.6 155.2 C711.2 157.3 708.7 159.3 705.8 161.1 C702.9 162.9 699.3 164.9 696 166 C692.7 167.1 688.5 168.2 686.2 167.9 C683.9 167.6 682.9 164.7 682.3 164"/>
<path class="coast" d="M714.6 134.8 C715.1 134.0 715.8 131.5 717.6 129.9 C719.4 128.3 722.3 126.3 725.4 125 C728.5 123.7 733.3 123.2 736.1 122.1 C738.9 121.0 740.4 119.3 742 118.2 C743.6 117.1 744.9 114.2 745.9 115.2 C746.9 116.2 748.2 121.9 747.9 124 C747.6 126.1 745.7 126.8 743.9 127.9 C742.1 129.1 739.9 129.8 737.1 130.9 C734.3 132.1 730.2 133.7 727.3 134.8 C724.4 135.9 721.6 137.7 719.5 137.7 C717.4 137.7 715.4 135.3 714.6 134.8"/>
<path class="coast" d="M700 106.4 L707.8 115.2 L706.8 119.1 L700 119.1"/>
<path d="M367.1 65.6 L538.8 77 L546 124 L547.6 131.8 L556.4 190 L559 203.7 L492.3 203.7 L492.3 190.4 L441.5 190.4 L437.7 182.6 L433.8 178.7 L425.9 179.6 L418.1 183.6 L414.2 188.4 L404.5 187 L402.5 176.7 L405.4 165 L411.3 153.3 L416.4 140.8 L412.5 134 L400.8 131 L389.8 126.2 L387.6 115.4 L373.4 115.4 L373.4 91 L367.1 91Z" fill="#ffffb0" style="mix-blend-mode:multiply"/>
<circle class="dot" cx="407.4" cy="95.7" r="6.9"/>
<circle class="dot" cx="389.8" cy="125.9" r="6.9"/>
<circle class="dot" cx="463.0" cy="91.2" r="6.9"/>
<circle class="dot" cx="479.1" cy="85.3" r="6.9"/>
<circle class="dot" cx="508.4" cy="110.3" r="6.9"/>
<circle class="dot" cx="518.1" cy="113.2" r="6.9"/>
<circle class="dot" cx="521.3" cy="127.9" r="6.9"/>
<circle class="dot" cx="486.9" cy="163.0" r="6.9"/>
<circle class="dot" cx="471.3" cy="174.8" r="6.9"/>
<circle class="dot" cx="523.6" cy="168.9" r="6.9"/>
<circle class="dot" cx="527.9" cy="170.5" r="6.9"/>
<circle class="dot" cx="492.9" cy="205.4" r="6.9"/>
<circle class="dot" cx="543.7" cy="152.7" r="6.9"/>
<circle class="dot" cx="581.6" cy="212.3" r="6.9"/>
<circle class="dot" cx="606.8" cy="222.4" r="6.9"/>
</g>
<g transform="translate(198.8 21.8) rotate(18.5)">
<text class="ml" x="0" y="0" textLength="29.5" lengthAdjust="spacingAndGlyphs" font-style="italic">50</text>
<text x="27.4" y="-13.1" font-family="Liberation Sans, sans-serif" font-size="18" fill="#111">°</text>
<text class="ml" x="45.5" y="0" textLength="17.5" lengthAdjust="spacingAndGlyphs" font-style="italic">N</text>
</g>
<g transform="translate(157.0 155.2) rotate(18.4)">
<text class="ml" x="0" y="0" textLength="29.5" lengthAdjust="spacingAndGlyphs" font-style="italic">40</text>
<text x="27.4" y="-13.1" font-family="Liberation Sans, sans-serif" font-size="18" fill="#111">°</text>
<text class="ml" x="45.5" y="0" textLength="17.5" lengthAdjust="spacingAndGlyphs" font-style="italic">N</text>
</g>
<g transform="translate(116.6 291.0) rotate(16.3)">
<text class="ml" x="0" y="0" textLength="29.5" lengthAdjust="spacingAndGlyphs" font-style="italic">30</text>
<text x="27.4" y="-13.1" font-family="Liberation Sans, sans-serif" font-size="18" fill="#111">°</text>
<text class="ml" x="45.5" y="0" textLength="17.5" lengthAdjust="spacingAndGlyphs" font-style="italic">N</text>
</g>
<g transform="translate(208.6 439.3) rotate(12)">
<text class="ml" x="0" y="0" textLength="41" lengthAdjust="spacingAndGlyphs" font-style="italic">120</text>
<text x="38.9" y="-14.1" font-family="Liberation Sans, sans-serif" font-size="18" fill="#111">°</text>
<text class="ml" x="55" y="0" textLength="21.5" lengthAdjust="spacingAndGlyphs" font-style="italic">W</text>
</g>
<g transform="translate(471.8 477.8) rotate(0)">
<text class="ml" x="0" y="0" textLength="38.5" lengthAdjust="spacingAndGlyphs">100</text>
<text x="41.9" y="-14.5" font-family="Liberation Sans, sans-serif" font-size="18" fill="#111">°</text>
<text class="ml" x="58.5" y="0" textLength="22.5" lengthAdjust="spacingAndGlyphs">W</text>
</g>
<g transform="translate(750.6 454.6) rotate(-13.2)">
<text class="ml" x="0" y="0" textLength="28" lengthAdjust="spacingAndGlyphs">80</text>
<text x="28.7" y="-13.9" font-family="Liberation Sans, sans-serif" font-size="18" fill="#111">°</text>
<text class="ml" x="45.5" y="0" textLength="21.5" lengthAdjust="spacingAndGlyphs">W</text>
</g>
</g>
<g id="chart">
<clipPath id="cp"><rect x="79" y="523" width="908" height="480"/></clipPath>
<g clip-path="url(#cp)">
<path class="g" d="M82.2 694.5 L90.1 701.6 L97.9 707 L104.9 695.3 L112.7 678.1 L120.5 663.3 L127.6 667.2 L134.6 687.5 L142.4 704.7 L149.4 703.1 L157.2 687.5 L165.1 688.3 L172.9 709.4 L182.2 696.9 L187.7 682.8 L195.5 682 L207.2 672.7 L217.4 665.6 L226 673.4 L232.2 696.9 L233.4 703"/>
<path class="g" d="M82.2 694.5 L87.7 696.1 L96.3 703.1 L104.9 712.5 L108.8 721.9 L113.5 734.4 L118.2 743.8 L122.9 742.2 L127.6 735.9 L138.5 737.5 L149.4 743.8 L160.4 757.8 L169.8 762.5 L185.4 757.8 L194.8 762.5 L207.2 751.6 L217.4 740.6 L223 742.7"/>
<path class="g" d="M82.2 705.5 L91.6 709.4 L107.2 717.2 L119.8 722.7 L127.6 725.8 L138.5 732.8 L149.4 743.8 L160.4 753.1 L169.8 762.5 L182.2 770.3 L191.6 775 L204.1 779.7 L216.6 787.5 L223 791.4"/>
<path class="g" d="M82.2 708.6 L94.8 712.5 L107.2 718 L119.8 723.4 L127.6 734.4 L132.2 743.8 L138.5 751.6 L144.8 759.4 L157.2 762.5 L169.8 759.4 L185.4 757.8 L194.8 762.5 L202.6 765.6 L216.6 753.9 L223 756.2"/>
<path class="g" d="M82.2 733.6 L91.6 734.4 L99.4 737.5 L107.2 743.8 L115.1 750 L122.9 756.2 L130.7 759.4 L141.6 762.5 L154.1 760.9 L163.5 761.7 L172.9 753.9 L188.5 753.1 L196.3 760.9 L207.2 759.4 L218.2 753.1 L223 755.2"/>
<path class="g" d="M96.3 745.3 L104.1 742.2 L111.9 739.1 L116.6 731.2 L119.8 722.7 L127.6 734.4 L130.7 750 L133.8 765.6 L138.5 784.4 L143.2 793.8 L149.4 797.7 L157.2 790.6 L166.6 782.8 L176 779.7 L185.4 776.6 L201 775"/>
<path class="g" d="M82.2 774.2 L88.5 771.1 L96.3 769.5 L104.1 772.7 L111.9 782.8 L116.6 793.8 L121.3 806.2 L127.5 830 L140 837.5 L152.5 838.8 L165 833.8 L175 823.8 L190 815 L205 810 L215 805 L223 803.7"/>
<path class="g" d="M82.2 784.4 L94.8 787.5 L107.2 790.6 L113.5 787.5 L118.2 793.8 L126 791.4 L133.8 790.6 L141.6 796.9 L149.4 797.7"/>
<path class="g" d="M82.2 790.6 L94.8 795.3 L107.2 800 L116.6 806.2 L130 815 L142.5 817.5 L152.5 812.5 L165 805 L180 801.2 L195 795 L210 797.5 L223 795.9"/>
<path class="g" d="M82.5 827.5 L90 830 L97.5 826.2 L105 812.5 L110 792.5 L115 787.5 L120 805 L123.8 842.5 L127.5 877.5 L135.5 910 L142.5 891.2 L150 886.2 L157.5 867.5 L165 842.5 L172.5 827.5 L180 822.5 L187.5 840 L198.8 841.2 L202.5 822.5 L210 805 L217.5 800 L223 822"/>
<path class="g" d="M232.7 857 L235 865 L241.2 882.5 L250 872.5 L257.8 857"/>
<path class="g" d="M290.3 857 L293.8 876.2 L295.9 857"/>
<path class="g" d="M190 780 L195 817.5 L202.5 882.5 L210 842.5 L218.8 800 L223 851.8"/>
<path class="g" d="M223.4 857 L226.2 891.2 L233.8 892 L237.2 857"/>
<path class="g" d="M210 820 L220 833.8 L223 835.3"/>
<path class="g" d="M82.5 733.8 L95 735 L107.5 742.5 L120 755 L132.5 760 L145 763.8 L157.5 760 L175 753.8 L187.5 753.8 L200 762.5 L210 750 L220 740 L223 743"/>
<path class="g" d="M82.5 773.8 L97.5 768.8 L107.5 776.2 L120 800 L135 815 L145 816.2 L157.5 810 L170 800 L187.5 797.5 L202.5 798.8 L217.5 802.5 L223 802.5"/>
<path class="g" d="M377 729.7 L377.5 728.8 L382.5 705 L392.5 675 L400 705 L405 733"/>
<path class="g" d="M411.1 733 L415 727.5 L417.4 733"/>
<path class="g" d="M463 733 L467.5 722.5 L475 726.2 L478.7 733"/>
<path class="g" d="M502.2 733 L510 717.5 L521.2 701.2 L530 725 L532.5 733"/>
<path class="g" d="M537 747.8 L540 757.5 L543 764.5"/>
<path class="g" d="M467.5 722.5 L482.5 715 L492.5 707.5 L497.5 688.8 L506.2 676.2 L511.2 696.2 L517.5 720 L525 731.2 L529.7 733"/>
<path class="g" d="M537 734.8 L543 734.2"/>
<path class="g" d="M548.2 733 L557.5 722.5 L566 702.5"/>
<path class="g" d="M377 729.8 L382.5 728.8 L383.4 733"/>
<path class="g" d="M411.7 733 L415 727.5"/>
<path class="g" d="M368.7 857 L368.8 857.5 L368.8 858.8 L377.5 887.5 L385 902.5 L390 887.5 L390.5 887"/>
<path class="g" d="M401.2 887 L407.5 908.8 L412.7 887"/>
<path class="g" d="M537 806.3 L543 805.3"/>
<path class="g" d="M537 775.2 L543 772.2"/>
<path class="g" d="M368.2 857 L368.8 858.8"/>
<path class="g" d="M377 812.3 L382.5 862.5 L383 866"/>
<path class="g" d="M386 887 L392.5 932.5 L398 887"/>
<path class="g" d="M377 797 L383 803"/>
<path class="g" d="M398.6 887 L401.2 900 L407.5 907.5"/>
<path class="g" d="M459.2 887 L460 888.8 L467.5 893.8 L468.1 887"/>
<path class="g" d="M537 844.6 L541.2 822.5 L543 814.2"/>
<path class="g" d="M377 777 L383 783"/>
<path class="g" d="M537 790.7 L543 792.7"/>
<path class="g" d="M377 809.7 L383 813.7"/>
<path class="g" d="M537 807.4 L543 805.1"/>
<path class="g" d="M377 823.5 L383 826.5"/>
<path class="g" d="M537 815 L543 815"/>
<path class="g" d="M377 834.5 L383 836.7"/>
<path class="g" d="M537 823.4 L543 824.1"/>
<path class="g" d="M377 825 L380 825 L383 827"/>
<path class="g" d="M537 801 L540 800 L543 796"/>
<path class="g" d="M550 730 L557.5 720 L565 702.5 L573.8 696.2 L582.5 707.5 L590 706.2 L596.2 687.5 L603.8 668.8 L611.2 690 L620 707.5 L627 733"/>
<path class="g" d="M631.5 733 L637.5 730 L647.5 720 L657.5 702.5 L665 720 L668.5 733"/>
<path class="g" d="M674.7 733 L677.5 715 L681.2 706.2 L687.5 702.5 L695 712.5 L700 695 L702.5 680 L703 679.8"/>
<path class="g" d="M628.6 733 L637.5 717.5 L643.8 700 L650 687.5 L657.5 705 L663.8 725 L666.9 733"/>
<path class="g" d="M697 743 L700 740"/>
<path class="g" d="M775.5 623 L785 617.5 L787.1 623"/>
<path class="g" d="M579.6 733 L581.2 727.5 L584.4 733"/>
<path class="g" d="M697 758.7 L703 754.7"/>
<path class="g" d="M754.1 777 L756.2 793.8 L761.8 777"/>
<path class="g" d="M697 789.1 L710 787.5 L725 790 L740 793.8 L755 798.8 L770 802 L785 798.8 L797.5 790 L804.9 777"/>
<path class="g" d="M697 745.7 L700 745 L703 743"/>
<path class="g" d="M697 767.4 L703 765.1"/>
<path class="g" d="M697 776.5 L703 773.5"/>
<path class="g" d="M697 809 L700 807.5 L710 805 L715 797.5 L725 785 L737 777"/>
<path class="g" d="M697 796.5 L710 790 L730 785 L740.7 777"/>
<path class="g" d="M841.9 623 L848 592.5 L854.2 555 L861.8 547.5 L870.5 557.5 L872.6 563"/>
<path class="g" d="M856.1 623 L860.5 595 L863 592.8"/>
<path class="g" d="M950 717 L953 725 L963 740 L973 750 L983 755"/>
<path class="g" d="M771.2 623 L778 618.8 L785.5 617.5 L787.3 623"/>
<path class="g" d="M857 634.9 L860.5 620 L863 619.2"/>
<path class="g" d="M857 623 L863 620"/>
<path class="g" d="M952.7 717 L958 725 L970 717"/>
<path class="g" d="M857 658 L863 655"/>
<path class="g" d="M947.8 717 L953 730 L963 750 L973 735 L983 730"/>
<path class="g" d="M857 700.3 L858 700 L863 700"/>
<path class="g" d="M909.2 717 L915.5 727.5 L923 755 L930.5 786"/>
<path class="g" d="M857 688 L863 685"/>
<path class="g" d="M874 717 L878 765 L885.5 747.5 L893 723.8 L900.5 726.2 L908 722.5 L915.5 730 L920.5 755 L928 786"/>
<path class="g" d="M855.7 777 L856.8 786"/>
<path class="g" d="M857 691.7 L860.5 690 L863 693.3"/>
<path class="g" d="M873.7 717 L878 730 L888 737.5 L898 755 L908 775 L913 786"/>
<path class="g" d="M855.2 777 L858 802.5 L861.8 830 L869.2 852.5 L875.5 853.8 L885.5 853.8 L891.8 840 L899.2 835 L907.5 827 L915.5 845 L923 861.2 L929.2 842.5 L931.8 837.5 L943 828.8 L953 826.2 L960.5 837.5 L966.8 855 L975.5 855 L983 848.8"/>
<path class="g" d="M915.5 720 L923 757.5 L928 792.5 L933 840 L938 882.5 L945.5 913.8 L953 900 L960.5 887.5 L968 880 L971.8 865 L975.5 855"/>
<path class="g" d="M888 740 L898 757.5 L908 777.5 L918 795 L924.2 802.5 L928 820 L933 840 L938 862.5 L945.5 867.5 L953 856.2 L963 851.2 L975.5 850 L983 848.8"/>
<path class="g" d="M913 730 L918 745 L928 775 L938 792.5 L945.5 797.5 L951.8 822.5 L960.5 830 L966.8 797.5 L975.5 790 L983 781.2"/>
<path class="g" d="M768 802.5 L783 801.2 L795.5 793.8 L805.5 780 L808 785 L810.7 777"/>
<path class="g" d="M805.3 777 L808 785 L809.7 777"/>
<path class="g" d="M865.5 720 L868 727.5 L876.8 767.5 L885.5 752.5 L890.5 727.5"/>
<path class="g" d="M923 757.5 L928 770 L938 762.5 L948 740 L953 752.5 L968 771.2 L983 771.2"/>
<path class="g" d="M943 720 L950.5 737.5 L963 750 L973 740 L983 730"/>
<path class="g" d="M540 814.4 L549.4 808.1 L560.3 805 L566.6 795.6 L571.2 789.4 L575.9 798.8 L580.6 808.1 L586.9 814.4 L596.2 817.5 L605.6 819.8 L615 817.5 L624.4 814.4 L633.8 811.2 L641.6 809.7 L647.8 803.4 L652.5 790.9 L658.8 776.9 L665 767.5 L672.8 769.1 L680.6 776.9 L690 773.8 L700 769.1"/>
<path class="g" d="M540 822.2 L552.5 822.2 L560.3 830 L565 842.5 L574.4 839.4 L579.1 830 L580.6 817.5 L583.8 812.8 L591.6 823.8 L597.8 833.1 L605.6 830 L615 825.3 L625.9 820.6 L636.9 814.4 L643.1 808.1 L649.4 797.2 L655.6 789.4 L663.4 795.6 L668.1 814.4 L672.8 839.4 L677.5 830 L683.8 817.5 L690 805 L700 795.6"/>
<path class="g" d="M565 842.5 L569.7 862.8 L574.4 880 L581.4 884.7 L588.4 878.4 L594.7 867.5 L602.5 851.9 L611.9 848.8 L621.2 842.5 L630.6 834.7 L640 826.9 L643.1 819.1"/>
<path class="g" d="M575.9 803.4 L582.2 826.9 L590 842.5 L594.7 836.2 L602.5 823.8 L608.8 830 L618.1 833.1 L627.5 826.9 L636.9 819.1 L643.1 817.5 L649.4 839.4 L657.2 839.4 L665 826.9 L668.1 814.4"/>
<path class="g" d="M540 775.3 L549.4 781.6 L558.8 778.4 L566.6 750.3 L569.7 761.2 L571.2 784.7 L574.4 798.8 L577.5 808.1"/>
<path class="g" d="M540 761.2 L546.2 773.8 L555.6 784.7 L565 795.6 L575.9 803.4"/>
<path class="g" d="M555.6 769.1 L568.1 753.4 L577.5 745.6 L586.9 742.5 L596.2 739.4 L604.1 734.7 L611.9 744.1 L618.1 753.4 L621.2 761.2 L624.4 776.9 L629.1 792.5 L636.9 805 L646.2 817.5 L652.5 820.6 L660.3 817.5 L665 808.1 L668.1 795.6 L672.8 781.6 L680.6 769.1 L688.4 761.2 L700 756.6"/>
<path class="g" d="M560.3 770.6 L571.2 767.5 L583.8 764.4 L596.2 761.2 L608.8 758.1 L621.2 756.6 L627.5 759.7 L640 756.6 L652.5 754.2 L665 751.9 L680.6 749.5 L700 748.8"/>
<path class="g" d="M575.9 803.4 L580.6 784.7 L588.4 770.6 L599.4 762.8 L611.9 758.1"/>
<path class="g" d="M582.2 731.6 L588.4 742.5 L594.7 756.6 L596.2 760.5 L604.1 755 L608.8 745.6 L613.4 740.9 L621.2 756.6 L622.8 764.4 L627.5 772.2 L633.8 781.6 L636.9 792.5 L641.6 800.3 L649.4 798.8 L655.6 789.4"/>
<path class="g" d="M586.9 792.5 L597.8 777.7 L604.1 786.2 L611.9 801.9 L618.1 812.8 L627.5 820.6 L633.8 814.4 L640 812.8"/>
<path class="g" d="M540 801.9 L552.5 800.3 L565 798.8 L577.5 803.4 L593.1 806.6 L608.8 803.4 L624.4 801.1 L640 798.8 L649.4 792.5 L658.8 781.6 L668.1 776.9 L680.6 781.6 L690 786.2 L700 776.9"/>
<path class="g" d="M540 830 L544.7 814.4 L549.4 803.4 L557.2 776.9 L565 753.4 L571.2 747.2 L579.1 734.7 L582.2 730"/>
<path class="g" d="M580.6 808.1 L593.1 811.2 L605.6 812.8 L618.1 811.2 L630.6 809.7 L640 808.1 L646.2 800.3 L652.5 792.5 L658.8 795.6 L668.1 805 L677.5 797.2 L686.9 792.5 L700 792.5"/>
<path class="g" d="M668.1 730 L671.2 748.8 L669.7 776.9 L668.1 805 L669.7 820.6 L680.6 819.1 L690 806.6 L700 801.9"/>
<path class="g" d="M674.4 739.4 L680.6 748.8 L686.9 736.2 L693.1 745.6 L700 730"/>
<path class="g" d="M649.4 776.9 L658.8 770.6 L668.1 767.5 L680.6 766.7 L693.1 765.9 L700 761.2"/>
<path class="g" d="M540 733.1 L546.2 734.7 L552.5 731.6 L555.6 730"/>
<path class="g" d="M618.1 730 L627.5 736.2 L636.9 731.6 L640 730"/>
<path class="g" d="M380 764.4 L389.4 770.6 L398.8 773.8 L406.6 739.4 L411.2 730"/>
<path class="g" d="M405 730 L408.1 745.6 L411.2 761.2 L414.4 744.1 L420.6 758.1 L430 764.4 L437.8 758.1 L453.4 761.2 L464.4 745.6 L475.3 730"/>
<path class="g" d="M475.3 730 L481.6 739.4 L490.9 753.4 L500.3 739.4 L506.6 730"/>
<path class="g" d="M380 770.6 L389.4 776.9 L400.3 790.9 L411.2 789.4 L425.3 786.2 L436.2 780 L445.6 772.2 L455 767.5 L464.4 770.6 L473.8 767.5 L481.6 775.3 L484.7 783.1 L487.8 790.9 L498.8 792.5 L508.1 789.4 L520.6 786.2 L530 783.1 L540 775.3"/>
<path class="g" d="M411.2 761.2 L417.5 770.6 L426.9 776.9 L439.4 776.9 L448.8 770.6 L458.1 768.3 L467.5 776.9 L476.9 778.4 L483.1 781.6 L487.8 770.6 L492.5 765.2 L501.9 764.4 L509.7 770.6 L520.6 781.6 L530 784.7 L540 776.9"/>
<path class="g" d="M380 783.1 L389.4 789.4 L398.8 798.8 L405 806.6 L415.9 798.8 L425.3 787.8 L436.2 787.8 L445.6 781.6 L455 783.1 L464.4 787.8 L469.1 792.5 L473.8 817.5 L472.2 839.4 L470.6 870.6 L469.1 890"/>
<path class="g" d="M484.7 776.9 L495.6 776.9 L508.1 775.3 L520.6 775.3 L530 773.8 L536.2 765.9 L540 762.8"/>
<path class="g" d="M380 833.1 L389.4 839.4 L400.3 847.2 L411.2 839.4 L423.8 836.2 L436.2 837.8 L448.8 830 L458.1 823.8 L467.5 826.9 L473.8 823.8 L481.6 817.5 L489.4 826.9 L497.2 839.4 L503.4 833.1 L509.7 817.5 L520.6 811.2 L530 808.1 L540 803.4"/>
<path class="g" d="M380 837.8 L390.9 839.4 L400.3 845.6 L411.2 837.8 L426.9 834.7 L442.5 839.4 L453.4 844.1 L464.4 842.5 L473.8 836.2 L483.1 823.8 L492.5 817.5 L505 814.4 L517.5 811.2 L530 805 L540 800.3"/>
<path class="g" d="M405 822.2 L415.9 826.9 L430 825.3 L442.5 822.2 L453.4 820.6 L464.4 822.2 L473.8 823.8 L481.6 808.1 L489.4 803.4 L498.8 801.9 L509.7 805 L520.6 800.3 L530 798.8 L540 797.2"/>
<path class="g" d="M403.4 822.2 L409.7 833.1 L420.6 831.6 L439.4 830 L448.8 825.3 L458.1 826.9 L467.5 836.2 L473.8 837.8 L481.6 826.9 L489.4 820.6 L498.8 817.5 L508.1 814.4"/>
<path class="g" d="M422.2 814.4 L431.6 817.5 L442.5 823.8 L448.8 830 L455 825.3 L461.2 814.4 L467.5 820.6 L473.8 830 L480 833.1 L489.4 847.2 L490.9 851.9 L498.8 845.6 L503.4 833.1 L509.7 839.4 L520.6 842.5 L530 839.4 L536.2 850.3 L540 830"/>
<path class="g" d="M426.9 853.4 L431.6 872.2 L437.8 867.5 L445.6 875.3 L453.4 865.9 L456.6 839.4 L458.1 823.8 L459.7 814.4"/>
<path class="g" d="M422.2 842.5 L417.5 855 L412.8 870.6 L408.1 890"/>
<path class="g" d="M426.9 853.4 L420.6 862.8 L415.9 876.9 L411.2 890"/>
<path class="g" d="M426.9 853.4 L442.5 842.5 L453.4 837.8 L464.4 830 L473.8 823.8"/>
<path class="g" d="M386.2 730 L389.4 761.2 L394.1 792.5 L400.3 823.8 L403.4 855 L401.9 890"/>
<path class="g" d="M380 792.5 L386.2 811.2 L389.4 839.4 L394.1 870.6 L397.2 890"/>
<path class="g" d="M380 839.4 L383.1 870.6 L384.7 890"/>
<path class="g" d="M406.6 730 L406.6 776.9 L405 808.1 L403.4 839.4 L403.4 870.6 L398.8 880 L390.9 890"/>
<path class="g" d="M453.4 873.8 L458.1 883.1 L461.2 890"/>
<path class="g" d="M380 795.6 L389.4 800.3 L397.2 811.2 L403.4 830 L411.2 837.8"/>
<path class="g" d="M481.6 817.5 L489.4 808.1 L495.6 811.2 L503.4 830 L509.7 837.8 L520.6 833.1 L533.1 830 L540 823.8"/>
<path class="g" d="M530 730 L534.7 745.6 L540 761.2"/>
<path class="g" d="M540 730 L530 733.1 L520.6 730"/>
<path class="g" d="M232.5 700 L237.2 715.6 L241.9 731.2 L249.7 742.2 L259.1 753.1 L271.6 762.5 L282.5 768.8 L293.4 778.1 L301.2 775 L307.5 768.8 L316.9 771.9 L329.4 775 L341.9 773.4 L354.4 773.4 L366.9 778.1 L380 782.8"/>
<path class="g" d="M304.4 809.4 L305.2 762.5 L306.7 731.2 L309.1 715.6 L316.1 703.1 L323.1 709.4 L330.9 718.8 L338.8 721.9 L348.1 729.7 L354.4 726.6 L362.2 734.4 L370 743.8 L376.2 729.7 L380 726.6"/>
<path class="g" d="M220 740.6 L226.2 743.8 L230.9 757.8 L227.8 768.8 L223.1 778.1 L220 781.2"/>
<path class="g" d="M220 754.7 L229.4 759.4 L238.8 746.9 L251.2 745.3 L265.3 743 L276.2 743 L282.5 751.6 L288.8 762.5 L295 776.6 L301.2 775"/>
<path class="g" d="M230.9 757.8 L240.3 764.1 L251.2 762.5 L263.8 757.8 L277.8 757.8 L282.5 765.6 L288.8 776.6 L293.4 778.1"/>
<path class="g" d="M240.3 746.9 L248.1 756.2 L257.5 762.5 L266.9 765.6 L279.4 768.8 L291.9 775 L298.1 762.5 L304.4 757.8 L313.8 759.4 L323.1 765.6 L332.5 775 L345 771.9 L354.4 760.9 L366.9 762.5 L380 767.2"/>
<path class="g" d="M260.6 762.5 L266.9 756.2 L276.2 745.3"/>
<path class="g" d="M220 787.5 L229.4 784.4 L240.3 778.1 L254.4 773.4 L266.9 770.3 L279.4 771.9 L291.9 778.1 L304.4 771.9 L313.8 762.5 L323.1 768.8 L329.4 778.1 L338.8 775 L348.1 771.9 L360.6 773.4 L380 775"/>
<path class="g" d="M220 793.8 L235.6 793.8 L251.2 792.2 L266.9 790.6 L276.2 787.5 L285.6 793.8 L295 801.6 L307.5 800 L316.9 792.2 L320 782.8 L313.8 775 L307.5 778.1"/>
<path class="g" d="M220 803.1 L229.4 801.6 L240.3 803.1 L251.2 800 L266.9 800 L282.5 800 L298.1 801.6 L310.6 801.6"/>
<path class="g" d="M254.4 781.2 L245 787.5 L235.6 784.4 L226.2 787.5"/>
<path class="g" d="M220 837.5 L229.4 839.1 L240.3 835.9 L251.2 829.7 L259.1 820.3 L263.8 814.1 L273.1 812.5 L285.6 810.9 L295 809.4 L304.4 800 L313.8 800 L326.2 792.2 L338.8 787.5 L351.2 782.8"/>
<path class="g" d="M238.8 860 L240.3 825 L248.1 812.5 L257.5 807.8 L248.1 801.6 L240.3 803.1"/>
<path class="g" d="M257.5 807.8 L263.8 821.9 L273.1 828.1 L285.6 834.4 L298.1 837.5 L310.6 834.4 L320 825 L332.5 818.8 L345 809.4 L352.8 801.6 L360.6 800 L370 801.6 L380 809.4"/>
<path class="g" d="M255.9 860 L263.8 840.6 L271.6 825 L277.8 804.7 L282.5 815.6 L287.2 840.6 L291.9 860"/>
<path class="g" d="M295 860 L298.1 825 L299.7 803.1 L301.2 787.5"/>
<path class="g" d="M293.4 815.6 L301.2 807.8 L310.6 801.6"/>
<path class="g" d="M298.1 807.8 L307.5 818.8 L313.8 828.1 L320 843.8 L324.7 851.6 L327.8 832.8 L330.9 809.4 L332.5 787.5 L335.6 762.5 L339.5 731.2 L345 740.6 L349.7 762.5 L352.8 787.5 L357.5 818.8 L362.2 846.9 L366.9 860"/>
<path class="g" d="M348.1 746.9 L349.7 735.9 L354.4 726.6"/>
<path class="g" d="M313.8 828.1 L326.2 825 L338.8 823.4 L348.1 832.8 L354.4 828.1 L360.6 832.8 L373.1 832.8 L380 834.4"/>
<path class="g" d="M220 803.1 L224.7 825 L229.4 860"/>
<path class="g" d="M220 818.8 L223.1 840.6 L224.7 860"/>
<path class="g" d="M313.8 800 L320 809.4 L329.4 818.8 L338.8 825"/>
<path class="g" d="M329.4 765.6 L335.6 759.4 L345 773.4"/>
<path class="g" d="M351.2 762.5 L355.9 759.4 L366.9 762.5 L376.2 765.6 L380 762.5"/>
<path class="g" d="M354.4 787.5 L360.6 800 L380 800"/>
<path class="g" d="M370 860 L376.2 840.6 L380 837.5"/>
<path class="g" d="M373.1 800 L376.2 818.8 L380 840.6"/>
<path class="g" d="M700 713.8 L701.6 682.5 L706.2 677.8 L710.9 677.8 L717.2 695 L725 698.1 L731.2 698.1 L737.5 707.5 L743.8 695 L750 679.4 L756.2 660.6 L760.9 638.8 L762.5 623.1 L770.3 627.8 L778.1 620"/>
<path class="g" d="M787.5 620 L793.8 638.8 L801.6 663.8 L806.2 682.5 L812.5 690.3 L821.9 698.1 L829.7 695 L835.9 666.9 L840.6 635.6 L843.8 620"/>
<path class="g" d="M700 698.1 L707.8 695 L714.1 704.4 L718.8 712.2 L725 699.7 L731.2 707.5 L735.9 716.9 L742.2 704.4 L748.4 693.4 L753.1 701.2 L754.7 729.4 L756.2 745 L762.5 757.5 L767.2 745 L770.3 721.6 L775 707.5"/>
<path class="g" d="M757.8 666.9 L760.9 638.8 L770.3 637.2 L778.1 651.2 L787.5 666.9 L796.9 682.5 L809.4 691.9 L825 691.9 L832.8 682.5 L840.6 660.6 L850 643.4 L856.2 627.8 L860 620"/>
<path class="g" d="M762.5 651.2 L767.2 666.9 L771.9 685.6 L775 701.2 L778.1 716.9 L784.4 726.2 L790.6 732.5 L800 738.8 L809.4 735.6 L818.8 729.4 L829.7 723.1 L840.6 738.8 L846.9 729.4 L850 707.5 L854.7 688.8 L860 685.6"/>
<path class="g" d="M700 712.2 L709.4 716.9 L720.3 715.3 L731.2 712.2 L740.6 709.1 L751.6 702.8 L762.5 698.1 L771.9 695 L775 685.6 L781.2 676.2 L790.6 670 L803.1 668.4 L812.5 673.1 L823.4 665.3 L831.2 663.8 L840.6 665.3 L850 663.8"/>
<path class="g" d="M771.9 695 L778.1 682.5 L784.4 673.1 L793.8 674.7 L800 682.5 L809.4 690.3 L818.8 685.6 L825 679.4 L834.4 666.9"/>
<path class="g" d="M775 690.3 L784.4 685.6 L793.8 682.5 L803.1 685.6 L809.4 691.9"/>
<path class="g" d="M700 745 L709.4 738.8 L718.8 729.4 L731.2 716.9 L743.8 713.8 L753.1 707.5 L762.5 701.2 L771.9 698.1 L778.1 695 L790.6 696.6 L803.1 696.6 L809.4 688.8 L815.6 679.4 L821.9 671.6 L829.7 663.8"/>
<path class="g" d="M700 751.2 L709.4 745 L715.6 732.5 L721.9 720 L731.2 715.3 L740.6 721.6 L753.1 721.6 L762.5 726.2 L775 727.8 L787.5 726.2 L800 724.7 L812.5 721.6 L825 716.9 L834.4 707.5 L843.8 695 L850 688.8 L860 679.4"/>
<path class="g" d="M700 760.6 L712.5 757.5 L725 748.1 L737.5 745 L750 745 L759.4 738.8 L768.8 741.9 L778.1 740.3 L787.5 740.3 L793.8 745 L803.1 743.4 L812.5 735.6 L825 729.4 L834.4 721.6"/>
<path class="g" d="M700 766.9 L709.4 760.6 L721.9 757.5 L734.4 755.9 L743.8 749.7 L753.1 741.9 L762.5 729.4 L770.3 721.6"/>
<path class="g" d="M700 770 L712.5 765.3 L728.1 763.8 L740.6 760.6 L746.9 751.2 L751.6 741.9"/>
<path class="g" d="M720.3 780 L728.1 760.6 L735.9 745 L745.3 732.5 L753.1 729.4 L762.5 727.8"/>
<path class="g" d="M735.9 780 L742.2 766.9 L750 754.4 L757.8 745 L765.6 741.9"/>
<path class="g" d="M765.6 780 L767.2 760.6 L768.8 738.8 L773.4 713.8 L778.1 704.4 L784.4 720 L790.6 741.9 L796.9 760.6 L803.1 773.1 L809.4 780"/>
<path class="g" d="M790.6 732.5 L800 729.4 L809.4 732.5 L818.8 735.6 L825 726.2 L829.7 713.8 L832.8 682.5 L835.9 666.9"/>
<path class="g" d="M803.1 720 L806.2 745 L809.4 752.8 L815.6 741.9 L823.4 726.2 L829.7 732.5 L837.5 748.1 L843.8 738.8 L846.9 713.8 L850 666.9 L854.7 635.6 L857.8 620"/>
<path class="g" d="M809.4 780 L818.8 770 L828.1 745 L834.4 707.5 L837.5 666.9 L840.6 635.6"/>
<path class="g" d="M846.9 713.8 L850 745 L854.7 780"/>
<path class="g" d="M700 776.2 L715.6 770 L731.2 768.4"/>
<path class="g" d="M793.8 710.6 L806.2 707.5 L818.8 707.5 L828.1 713.8 L834.4 716.9 L843.8 713.8 L853.1 704.4 L860 701.2"/>
<path class="g" d="M840.6 698.1 L850 688.8 L860 666.9"/>
<path class="g" d="M850 707.5 L856.2 695 L860 688.8"/>
<path class="g" d="M871.2 560 L877.5 572.5 L883.8 591.2 L890 611.6 L896.2 625.6 L902.5 636.6 L911.9 647.5 L921.2 655.3 L930.6 661.6 L936.9 669.4 L943.1 688.1 L949.4 720"/>
<path class="g" d="M860 621.4 L860.3 622.5 L866.6 628.8 L875.9 631.9 L886.9 638.1 L896.2 644.4 L905.6 647.5 L915 653.8 L924.4 660 L932.2 669.4 L936.9 681.9 L941.6 700.6 L946.2 720"/>
<path class="g" d="M860 601.4 L861.9 592.8 L869.7 587.3 L874.4 595.9 L880.6 611.6 L886.9 624.1 L894.7 633.4 L902.5 641.2 L910.3 647.5 L918.1 653.8 L927.5 660 L933.8 669.4 L940 685 L944.7 708.4 L947.8 720"/>
<path class="g" d="M860 621.7 L863.4 619.4 L869.7 619.4 L875.9 625.6 L883.8 633.4 L893.1 641.2 L902.5 645.9 L911.9 650.6 L921.2 656.9 L929.1 663.1 L935.3 672.5 L940 688.1 L943.1 710 L944.7 720"/>
<path class="g" d="M860.3 595.9 L865 591.2 L871.2 591.2 L875.9 606.9 L882.2 622.5 L888.4 630.3 L897.8 636.6 L907.2 641.2"/>
<path class="g" d="M860 623.4 L860.3 622.5"/>
<path class="g" d="M860 619.8 L860.3 619.4 L868.1 622.5 L875.9 638.1 L885.3 645.9 L893.1 649.1 L899.4 644.4"/>
<path class="g" d="M891.6 663.1 L899.4 647.5 L904.1 635 L908.8 620.9 L915 613.1 L921.2 627.2 L925.9 628.8 L932.2 622.5 L936.9 613.9 L943.1 617.8 L947.8 625.6 L952.5 641.2 L958.8 663.1 L963.4 672.5 L968.1 677.2 L975.9 667.8 L980.6 653.8 L983.8 642.8"/>
<path class="g" d="M915 685 L918.1 672.5 L922.8 653.8 L927.5 630.3 L932.2 622.5 L938.4 619.4 L941.6 641.2 L946.2 669.4 L949.4 688.1 L952.5 700.6 L958.8 710 L968.1 714.7 L980.6 713.1 L983.8 711.6"/>
<path class="g" d="M871.2 661.6 L880.6 655.3 L893.1 653.8 L899.4 658.4 L908.8 658.4 L918.1 656.9 L924.4 658.4 L930.6 661.6 L936.9 672.5 L941.6 688.1 L952.5 687.3 L965 688.1 L977.5 688.9 L983.8 687.3"/>
<path class="g" d="M875.9 666.2 L885.3 661.6 L893.1 661.6 L897.8 656.9 L899.4 644.4"/>
<path class="g" d="M946.2 685 L949.4 672.5 L952.5 666.2 L958.8 675.6 L965 688.1 L971.2 697.5 L977.5 702.2 L983.8 705.3"/>
<path class="g" d="M883.8 666.2 L893.1 667.8 L902.5 672.5 L908.8 677.2 L915 685"/>
<path class="g" d="M947.8 689.7 L958.8 691.2 L971.2 692.8 L983.8 689.7"/>
<path class="g" d="M949.4 700.6 L958.8 699.1 L971.2 695.9 L983.8 694.4"/>
<path class="g" d="M949.4 703.8 L955.6 700.6 L963.4 697.5"/>
<path class="g" d="M968.1 714.7 L974.4 711.6 L983.8 714.7"/>
<path class="g" d="M860 683.2 L861.9 681.9 L865 688.1 L869.7 700.6 L880.6 706.9 L891.6 716.2 L902.5 716.2 L915 717"/>
<path class="g" d="M863.4 666.2 L866.6 685 L869.7 700.6 L872.8 720"/>
<path class="g" d="M860 701 L861.9 700.6 L869.7 700.6"/>
<path class="g" d="M860 689.9 L861.9 692.8 L865 706.9 L868.1 720"/>
<path class="g" d="M860.3 720 L865 700.6 L871.2 681.9 L877.5 672.5 L883.8 666.2"/>
<path class="g" d="M860 696.9 L868.1 692.8 L871.2 681.9"/>
<path class="g" d="M930.6 669.4 L936.9 675.6"/>
<path class="g" d="M932.2 667.8 L938.4 674.1"/>
<path class="red" d="M81.2 745 C82.7 745.3 91.8 747.5 95 748 C98.2 748.5 107.2 749.2 110 750 C112.8 750.8 118.1 753.4 120 755 C121.9 756.6 125.8 762.7 127.5 765 C129.2 767.3 133.3 774.3 135 776.2 C136.7 778.1 140.8 781.7 142.5 782.5 C144.2 783.3 148.3 784.1 150 783.8 C151.7 783.5 155.3 780.7 157.5 780 C159.7 779.3 167.5 777.5 170 777 C172.5 776.5 178.1 775.1 180 775 C181.9 774.9 185.8 775.7 187.5 776.2 C189.2 776.8 193.2 779.0 195 780 C196.8 781.0 202.2 785.2 203.8 785.5 C205.5 785.8 208.3 783.2 210 782.5 C211.7 781.8 217.2 778.2 218.8 778.8 C220.5 779.3 223.3 785.9 225 787.5 C226.7 789.1 231.6 792.5 233.8 793 C236.0 793.5 242.4 792.3 245 792 C247.6 791.7 254.8 790.7 257.5 790 C260.2 789.3 267.7 786.2 270 785.5 C272.3 784.8 277.0 783.3 278.8 783.8 C280.6 784.3 284.6 788.4 286.2 790 C287.8 791.6 292.0 798.1 293.8 798 C295.6 797.9 300.7 790.2 302.5 788.8 C304.3 787.4 308.1 785.3 310 785 C311.9 784.7 318.4 786.0 320 786.2 C321.6 786.4 323.6 787.4 325 787 C326.4 786.6 330.9 783.4 332.5 782.5 C334.1 781.6 337.8 779.2 340 778.8 C342.2 778.4 350.3 778.2 352.5 778.8 C354.7 779.3 358.4 782.6 360 783.8 C361.6 785.0 365.6 788.9 367.5 790 C369.4 791.1 375.6 792.4 377.5 793.8 C379.4 795.2 383.4 800.2 385 802.5 C386.6 804.8 390.7 812.7 392.5 815 C394.3 817.3 399.4 822.6 401.2 823 C403.0 823.4 407.3 820.0 408.8 818.8 C410.3 817.6 413.5 813.3 415 812.5 C416.5 811.7 420.6 811.1 422.5 811.2 C424.4 811.3 430.0 813.7 432.5 813.8 C435.0 813.9 442.7 812.1 445 812 C447.3 811.9 451.6 813.0 453.8 812.5 C456.0 812.0 462.7 808.7 465 807.5 C467.3 806.3 473.1 802.4 475 801.2 C476.9 800.0 480.6 797.4 482.5 797 C484.4 796.6 489.8 798.4 492.5 798 C495.2 797.6 504.8 793.3 507.5 793 C510.2 792.7 515.0 795.3 517.5 795.5 C520.0 795.7 527.0 795.5 530 795 C533.0 794.5 541.7 791.8 545 791.2 C548.3 790.6 557.8 789.6 560 789.5 C562.2 789.4 563.4 789.7 565 790 C566.6 790.3 572.2 792.3 575 792.5 C577.8 792.7 586.8 792.6 590 792 C593.2 791.4 601.0 787.2 603.8 787 C606.5 786.8 612.1 789.5 615 790 C617.9 790.5 627.0 791.5 630 791.2 C633.0 790.9 640.3 788.6 642.5 787.5 C644.7 786.4 648.4 782.4 650 781.2 C651.6 780.0 655.9 776.5 657.5 776.2 C659.1 775.9 663.4 778.2 665 778.8 C666.6 779.3 670.9 781.8 672.5 781.2 C674.1 780.7 677.5 775.3 680 773.8 C682.5 772.3 692.5 769.8 695 768 C697.5 766.2 700.6 758.9 702.5 757.5 C704.4 756.1 710.0 755.8 712.5 755 C715.0 754.2 722.2 751.2 725 750 C727.8 748.8 735.0 746.0 737.5 744.5 C740.0 743.0 745.3 738.3 747.5 736.2 C749.7 734.1 755.3 727.9 757.5 725 C759.7 722.1 765.5 712.5 767.5 710 C769.5 707.5 773.8 703.3 775.5 702.5 C777.2 701.7 781.1 701.7 783 702.5 C784.9 703.3 791.1 708.7 793 710 C794.9 711.3 798.7 713.8 800.5 714.5 C802.3 715.2 807.3 716.3 809.2 716.2 C811.1 716.1 815.9 714.9 818 713.8 C820.1 712.7 825.8 708.4 828 706.2 C830.2 704.0 836.1 696.4 838 693.8 C839.9 691.2 843.9 685.4 845.5 682.5 C847.1 679.6 851.2 670.0 853 667.5 C854.8 665.0 860.1 659.8 861.8 659.5 C863.4 659.2 866.5 663.4 868 665 C869.5 666.6 873.6 672.1 875.5 673.8 C877.4 675.4 883.3 679.2 885.5 680 C887.7 680.8 893.3 680.8 895.5 681.2 C897.7 681.6 903.6 682.8 905.5 683.8 C907.4 684.8 911.1 687.9 913 690 C914.9 692.1 920.8 700.0 923 702.5 C925.2 705.0 930.8 709.5 933 712.5 C935.2 715.5 940.8 726.4 943 730 C945.2 733.6 950.9 742.5 953 745 C955.1 747.5 959.9 751.8 961.8 752.5 C963.7 753.2 968.2 751.9 970.5 751.2 C972.8 750.5 981.6 746.8 983 746.2"/>
</g>
<rect class="ax" x="79.5" y="523.5" width="908" height="480"/>
<path class="ax" d="M170.5 1003.5 v-9.5 M170.5 523.5 v9.5 M261.5 1003.5 v-9.5 M261.5 523.5 v9.5 M351.5 1003.5 v-9.5 M351.5 523.5 v9.5 M442.5 1003.5 v-9.5 M442.5 523.5 v9.5 M533.5 1003.5 v-9.5 M533.5 523.5 v9.5 M624.5 1003.5 v-9.5 M624.5 523.5 v9.5 M715.5 1003.5 v-9.5 M715.5 523.5 v9.5 M805.5 1003.5 v-9.5 M805.5 523.5 v9.5 M896.5 1003.5 v-9.5 M896.5 523.5 v9.5 M79 643.5 h9.5 M987.5 643.5 h-9.5 M79 763.5 h9.5 M987.5 763.5 h-9.5"/>
<path class="ax" style="stroke:#8a8a8a" d="M80 883.5 h8.5 M987 883.5 h-8.5"/>
<text class="tk" x="47.0" y="1043.5" textLength="63.5" lengthAdjust="spacingAndGlyphs">2003</text>
<text class="tk" x="137.8" y="1043.5" textLength="63.5" lengthAdjust="spacingAndGlyphs">2004</text>
<text class="tk" x="228.6" y="1043.5" textLength="63.5" lengthAdjust="spacingAndGlyphs">2005</text>
<text class="tk" x="319.4" y="1043.5" textLength="63.5" lengthAdjust="spacingAndGlyphs">2006</text>
<text class="tk" x="410.2" y="1043.5" textLength="63.5" lengthAdjust="spacingAndGlyphs">2007</text>
<text class="tk" x="501.0" y="1043.5" textLength="63.5" lengthAdjust="spacingAndGlyphs">2008</text>
<text class="tk" x="591.8" y="1043.5" textLength="63.5" lengthAdjust="spacingAndGlyphs">2009</text>
<text class="tk" x="682.6" y="1043.5" textLength="63.5" lengthAdjust="spacingAndGlyphs">2010</text>
<text class="tk" x="773.4" y="1043.5" textLength="63.5" lengthAdjust="spacingAndGlyphs">2011</text>
<text class="tk" x="864.2" y="1043.5" textLength="63.5" lengthAdjust="spacingAndGlyphs">2012</text>
<text class="tk" x="955.0" y="1043.5" textLength="63.5" lengthAdjust="spacingAndGlyphs">2013</text>
<text class="tk" x="71.5" y="536.5" text-anchor="end">4</text>
<text class="tk" x="71.5" y="656.5" text-anchor="end">2</text>
<text class="tk" x="71.5" y="776.5" text-anchor="end">0</text>
<text class="tk" x="71.5" y="896.5" text-anchor="end">-2</text>
<text class="tk" x="71.5" y="1016.5" text-anchor="end">-4</text>
<g transform="translate(30.3 988.8) rotate(-90)" class="tk" style="font-size:31px">
<text x="-0.8" y="0" textLength="119.2" lengthAdjust="spacingAndGlyphs">standard</text>
<text x="127.5" y="0" textLength="129.4" lengthAdjust="spacingAndGlyphs">deviation</text>
<text x="263.2" y="0" textLength="98.9" lengthAdjust="spacingAndGlyphs">around</text>
<text x="371.9" y="0" textLength="78.1" lengthAdjust="spacingAndGlyphs">mean</text>
</g>
</g>
</svg></body></html>
